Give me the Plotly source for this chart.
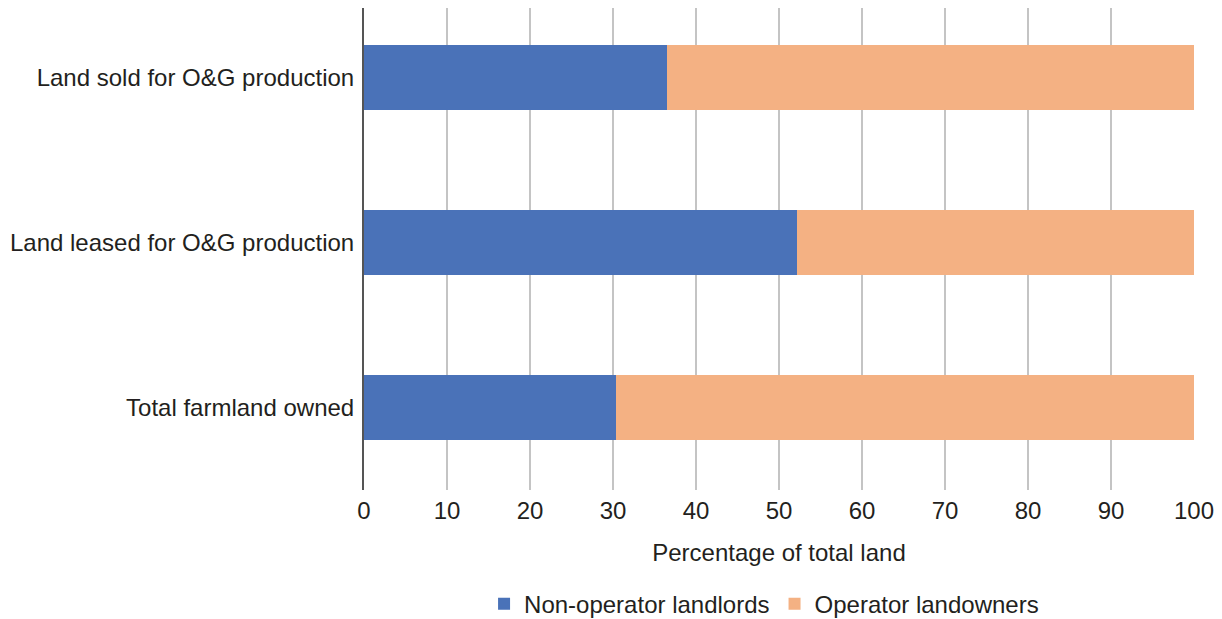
import plotly.graph_objects as go

categories = ["Total farmland owned", "Land leased for O&G production", "Land sold for O&G production"]
non_operator = [30.4, 52.2, 36.5]
operator = [69.6, 47.8, 63.5]
x_ticks = [0, 10, 20, 30, 40, 50, 60, 70, 80, 90, 100]

FONT = "Liberation Sans, Arial, Helvetica, sans-serif"
TXT = "#231f20"
FS = 24

fig = go.Figure()
fig.add_trace(go.Bar(y=categories, x=non_operator, orientation="h", name="Non-operator landlords",
                     marker=dict(color="#4a72b8", line=dict(width=0)), width=0.394))
fig.add_trace(go.Bar(y=categories, x=operator, orientation="h", name="Operator landowners",
                     marker=dict(color="#f4b183", line=dict(width=0)), width=0.394))

fig.update_layout(
    width=1214, height=611,
    barmode="stack",
    plot_bgcolor="white", paper_bgcolor="white",
    margin=dict(l=356, r=28, t=0, b=129, autoexpand=False),
    font=dict(family=FONT, size=FS, color=TXT),
    showlegend=True,
    legend=dict(orientation="h", x=0.482, xanchor="center", y=-0.19, yanchor="top",
                font=dict(size=FS, color=TXT), itemwidth=30, traceorder="normal"),
    xaxis=dict(range=[0, 100], tickvals=x_ticks, showgrid=True, gridcolor="#c4c4c4", gridwidth=1.5,
               zeroline=False, showline=False, ticks="", ticklabelstandoff=4, automargin=False,
               tickfont=dict(size=FS, color=TXT),
               title=dict(text="Percentage of total land", font=dict(size=FS, color=TXT), standoff=21)),
    yaxis=dict(range=[-0.5, 2.421], showgrid=False, zeroline=False, showline=True, automargin=False,
               linecolor="#555555", linewidth=2, ticks="", ticklabelstandoff=3,
               tickfont=dict(size=FS, color=TXT)),
)

fig.write_html("out.html")
